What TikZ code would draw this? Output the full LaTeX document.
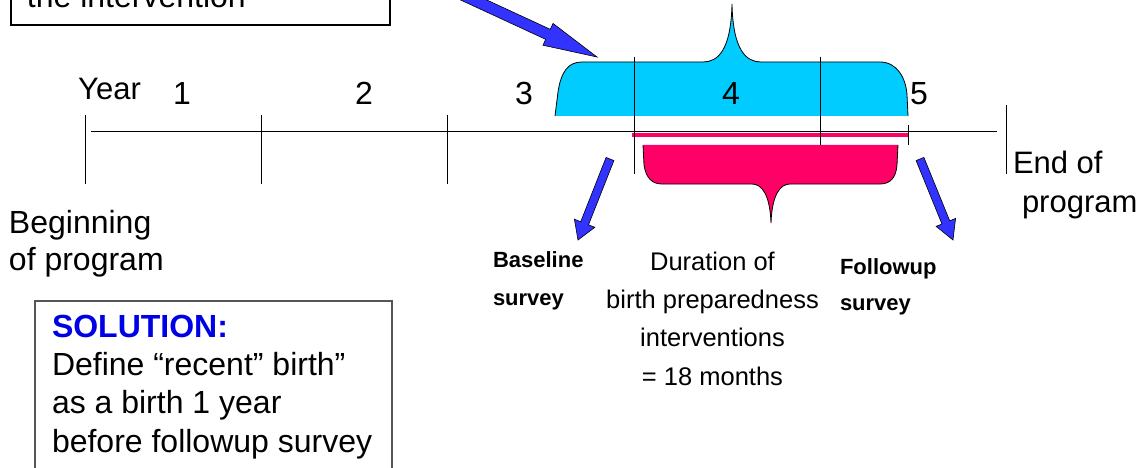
\documentclass[tikz,border=0pt]{standalone}
\usepackage{fontspec}
\setmainfont{Liberation Sans}
\usetikzlibrary{calc}
\definecolor{cyanfill}{RGB}{0,204,255}
\definecolor{magfill}{RGB}{255,0,102}
\definecolor{arrowblue}{RGB}{51,51,255}
\definecolor{solblue}{RGB}{0,0,230}
\definecolor{boxgray}{RGB}{85,85,85}
% block arrow: name, tail, tip, shaft half width, head half width, head length
\newcommand\blockarrow[6]{%
  \coordinate (#1-base) at ($(#3)!#6!(#2)$);
  \filldraw[barrow] ($(#2)!#4!90:(#3)$) -- ($(#1-base)!#4!90:(#3)$) -- ($(#1-base)!#5!90:(#3)$) -- (#3)
    -- ($(#1-base)!#5!-90:(#3)$) -- ($(#1-base)!#4!-90:(#3)$) -- ($(#2)!#4!-90:(#3)$) -- cycle;
}
\begin{document}
\begin{tikzpicture}[x=1pt,y=-1pt,
  txt/.style={inner sep=0pt, outer sep=0pt, font=\fontsize{32}{38}\selectfont},
  small/.style={inner sep=0pt, outer sep=0pt, font=\fontsize{22}{38}\selectfont\bfseries},
  mid/.style={inner sep=0pt, outer sep=0pt, font=\fontsize{25.5}{38.2}\selectfont},
  thinline/.style={line width=1pt, black},
  barrow/.style={fill=arrowblue, draw=black, line width=0.6pt, line join=miter},
  braceline/.style={draw=black, line width=0.8pt},
  boxline/.style={draw=black, line width=1.3pt},
]
\useasboundingbox (0,0) rectangle (1146,468);
\fill[white] (0,0) rectangle (1146,468);

% top (cut) box
\draw[boxline] (11,-60) rectangle (390,25);
\node[txt, anchor=base west] (topt) at (27,8) {the intervention};

% cyan brace
\fill[cyanfill] (555,116) -- (558,92) .. controls (561,72) and (568,62) .. (582,62) -- (703,62)
  .. controls (718,62) and (731,50) .. (732,4) .. controls (733,50) and (746,62) .. (761,62)
  -- (880,62) .. controls (897,62) and (906,78) .. (907,95) -- (908,116) -- cycle;
\draw[braceline] (555,116) -- (558,92) .. controls (561,72) and (568,62) .. (582,62) -- (703,62)
  .. controls (718,62) and (731,50) .. (732,4) .. controls (733,50) and (746,62) .. (761,62)
  -- (880,62) .. controls (897,62) and (906,78) .. (907,95) -- (908,116);

% magenta brace
\fill[magfill] (643,145) -- (644,165) .. controls (646,178) and (652,184) .. (662,184) -- (752,184)
  .. controls (762,184) and (770,195) .. (771,223) .. controls (772,195) and (780,184) .. (790,184)
  -- (880,184) .. controls (890,184) and (896,178) .. (897,165) -- (898,145) -- cycle;
\draw[braceline] (643,145) -- (644,165) .. controls (646,178) and (652,184) .. (662,184) -- (752,184)
  .. controls (762,184) and (770,195) .. (771,223) .. controls (772,195) and (780,184) .. (790,184)
  -- (880,184) .. controls (890,184) and (896,178) .. (897,165) -- (898,145);

% timeline
\coordinate (tl0) at (91,132);
\coordinate (tl1) at (997,132);
\draw[thinline] (tl0) -- (tl1);
\coordinate (m0) at (632,135);
\coordinate (m1) at (909,135);
\draw[magfill, line width=3.5pt] (m0) -- (m1);

% ticks
\draw[thinline] (85,115) -- (85,184);
\draw[thinline] (261,115) -- (261,184);
\draw[thinline] (447,115) -- (447,184);
\draw[thinline] (634,57) -- (634,174);
\draw[thinline] (820,57) -- (820,145);
\draw[thinline] (908,125) -- (908,145);
\draw[thinline] (1006,105) -- (1006,174);

% year labels
\node[inner sep=0pt, font=\fontsize{31}{34}\selectfont, anchor=base west] (year) at (78,100) {Year};
\node[txt, anchor=base] (y1) at (182,105) {1};
\node[txt, anchor=base] (y2) at (364,105) {2};
\node[txt, anchor=base] (y3) at (524,105) {3};
\node[txt, anchor=base] (y4) at (731,105) {4};
\node[txt, anchor=base] (y5) at (919,105) {5};

% side labels (base anchor = last line)
\node[txt, anchor=base west, align=left, font=\fontsize{32}{37}\selectfont] (begin) at (9,270) {Beginning\\of program};
\node[txt, anchor=base west, align=left, font=\fontsize{31}{39}\selectfont] (end) at (1013,212) {End of\\\hspace*{9pt}program};

% arrows
\coordinate (a1tail) at (411,-29); \coordinate (a1tip) at (597,57);
\blockarrow{a1}{a1tail}{a1tip}{5.5pt}{12pt}{54pt}
\coordinate (a2tail) at (610,159); \coordinate (a2tip) at (578,240);
\blockarrow{a2}{a2tail}{a2tip}{4.2pt}{11pt}{18pt}
\coordinate (a3tail) at (920,159); \coordinate (a3tip) at (953,240);
\blockarrow{a3}{a3tail}{a3tip}{4.2pt}{10.5pt}{19pt}

% survey labels
\node[small, anchor=base west, align=left] (base) at (493,305) {Baseline\\survey};
\node[small, anchor=base west, align=left, font=\fontsize{22}{36}\selectfont\bfseries] (follow) at (840,310) {Followup\\survey};
\node[mid, anchor=base, align=center] (dur) at (712.5,385) {Duration of\\birth preparedness\\interventions\\= 18 months};

% solution box
\draw[draw=boxgray, line width=1.3pt] (35,301) rectangle (392,540);
\node[txt, anchor=base west, align=left, font=\fontsize{32}{38.3}\selectfont] (sol) at (52,452)
  {{\color{solblue}\bfseries SOLUTION:}\\Define “recent” birth”\\as a birth 1 year\\before followup survey};
\end{tikzpicture}
\end{document}
